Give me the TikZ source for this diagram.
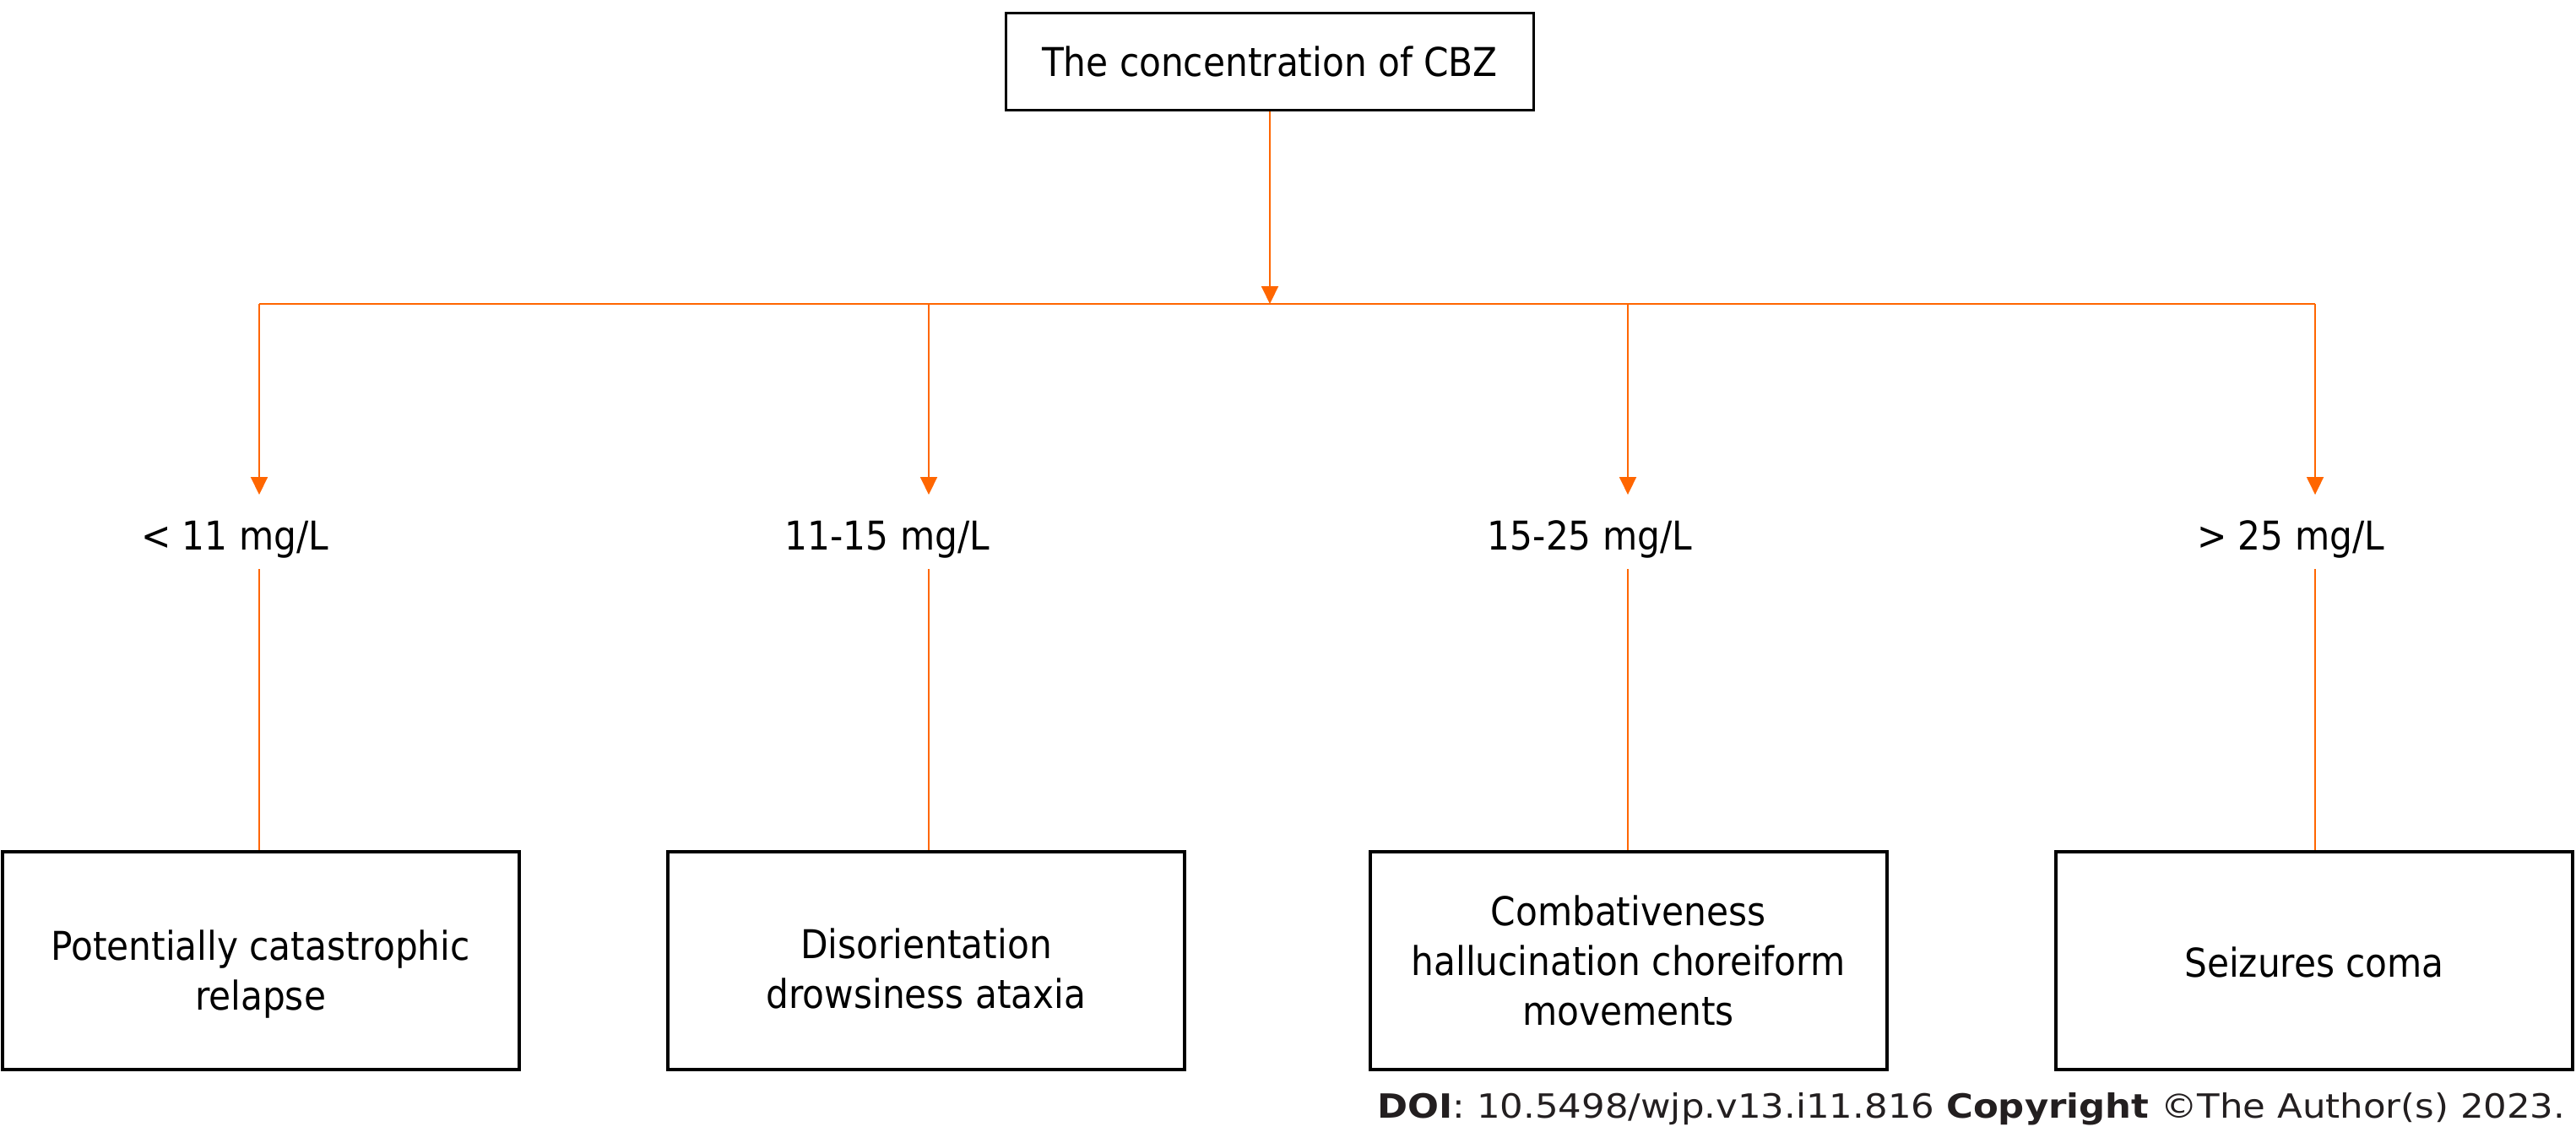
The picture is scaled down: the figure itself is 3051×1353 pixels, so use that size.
\documentclass[tikz,border=0pt]{standalone}
\usepackage{fontspec}
\setmainfont{DejaVu Sans Condensed}
\newfontfamily\doifont{DejaVu Sans}
\usetikzlibrary{arrows.meta}
\definecolor{orng}{RGB}{255,102,0}
\definecolor{doic}{RGB}{35,31,32}
\begin{document}
\begin{tikzpicture}[x=1pt,y=-1pt,
  topbox/.style={draw=black,line width=3pt,minimum width=625pt,minimum height=115pt,inner sep=0pt,
     font=\fontsize{47pt}{59pt}\selectfont},
  endbox/.style={draw=black,line width=4pt,minimum width=612pt,minimum height=258pt,inner sep=0pt},
  boxtext/.style={align=center,inner sep=0pt,font=\fontsize{47pt}{59pt}\selectfont},
  lab/.style={anchor=base,inner sep=0pt,font=\fontsize{47pt}{59pt}\selectfont},
  oline/.style={draw=orng,line width=2pt},
  arr/.style={oline,-{Triangle[length=21pt,width=20pt]}},
]
\useasboundingbox (0,0) rectangle (3051,1353);

% top box
\node[topbox] (top) at (1504,73) {The concentration of CBZ};

% junction line
\coordinate (h1) at (307,360);
\coordinate (h2) at (1100,360);
\coordinate (h3) at (1928,360);
\coordinate (h4) at (2742,360);
\draw[oline] (h1) -- (h4);
\draw[arr] (top.south) -- (top.south |- h1);

% labels
\node[lab] (l1) at (278,651) {< 11 mg/L};
\node[lab] (l2) at (1051,651) {11-15 mg/L};
\node[lab] (l3) at (1883,651) {15-25 mg/L};
\node[lab] (l4) at (2713,651) {> 25 mg/L};

% bottom boxes
\node[endbox] (b1) at (308.5,1138) {};
\node[endbox] (b2) at (1097,1138) {};
\node[endbox] (b3) at (1928.5,1138) {};
\node[endbox] (b4) at (2741,1138) {};

\node[boxtext] (t1) at ([yshift=-16pt]b1.center) {Potentially catastrophic\\relapse};
\node[boxtext] (t2) at ([yshift=-9pt]b2.center) {Disorientation\\drowsiness ataxia};
\node[boxtext] (t3) at (b3.center) {Combativeness\\hallucination choreiform\\movements};
\node[boxtext] (t4) at ([yshift=-2pt]b4.center) {Seizures coma};

% branch arrows and lower lines
\foreach \i/\xx in {1/307,2/1100,3/1928,4/2742}{
  \coordinate (a\i) at (\xx,586);
  \draw[arr] (h\i) -- (a\i);
  \coordinate (c\i) at (\xx,674);
  \draw[oline] (c\i) -- (c\i |- b\i.north);
}

% DOI line
\node[anchor=base,inner sep=0pt,text=doic,font=\doifont\fontsize{39.5pt}{48pt}\selectfont] (doi) at (2335,1324)
  {\scalebox{1.1}[1]{\textbf{DOI}: 10.5498/wjp.v13.i11.816 \textbf{Copyright} ©The Author(s) 2023.}};
\end{tikzpicture}
\end{document}
